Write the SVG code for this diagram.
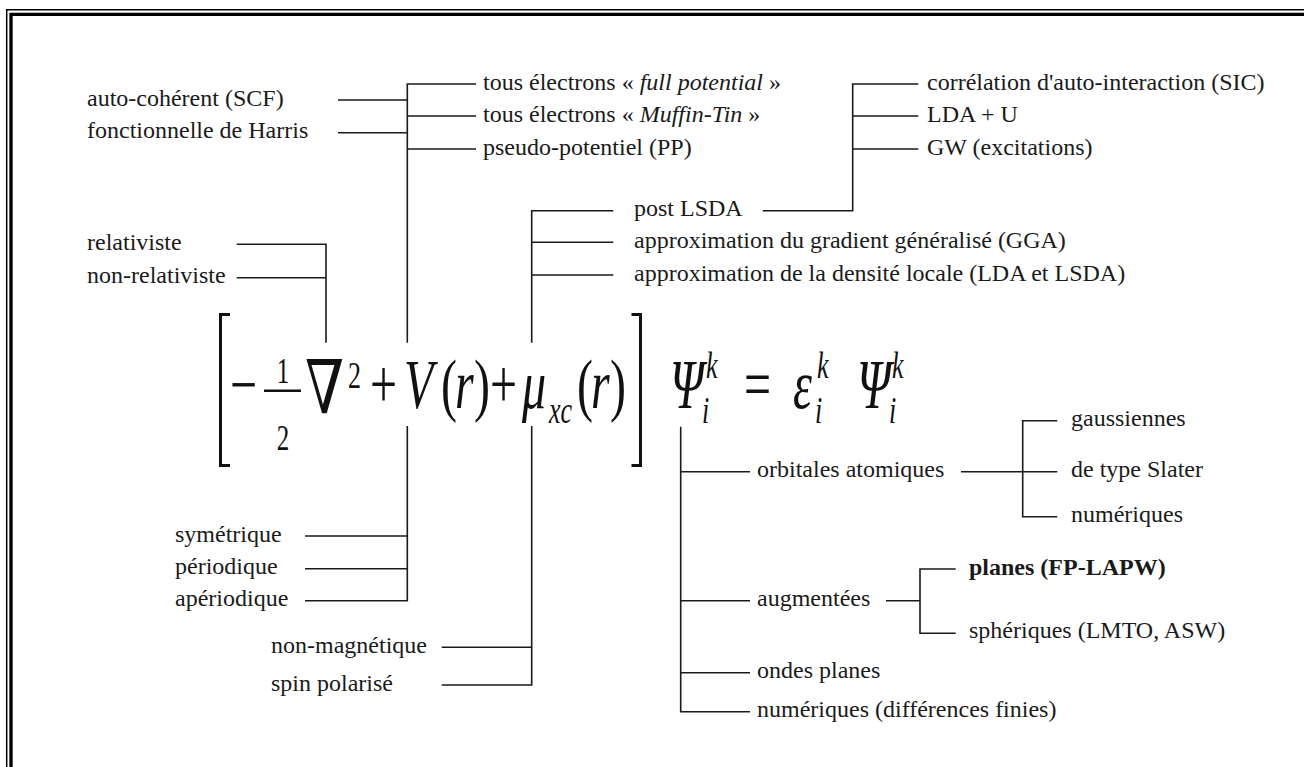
<svg xmlns="http://www.w3.org/2000/svg" width="1304" height="767" viewBox="0 0 1304 767">
<style>
.t{font-family:"Liberation Serif","Times New Roman",serif;font-size:24px;fill:#1a1a1a}
.b{font-weight:bold}
.i{font-style:italic}
.ln{stroke:#1a1a1a;stroke-width:1.6;fill:none}
.m{font-family:"Liberation Serif","Times New Roman",serif;font-size:48px;fill:#111}
.mi{font-family:"Liberation Serif","Times New Roman",serif;font-size:48px;font-style:italic;fill:#111}
.s{font-family:"Liberation Serif","Times New Roman",serif;font-size:26px;fill:#111}
.si{font-family:"Liberation Serif","Times New Roman",serif;font-size:26px;font-style:italic;fill:#111}
.f{font-family:"Liberation Serif","Times New Roman",serif;font-size:25px;fill:#111}
</style>
<rect x="0" y="0" width="1304" height="767" fill="#fff"/>
<g id="border">
<path d="M6.7,767 V9.8 H1304" fill="none" stroke="#000" stroke-width="1.5"/>
<path d="M11,767 V14.3 H1304" fill="none" stroke="#000" stroke-width="3.3"/>
</g>

<g id="equation">
<path d="M230,314.5 H220.5 V465.5 H230" fill="none" stroke="#111" stroke-width="3"/>
<path d="M631.5,314.5 H640.5 V465.5 H631.5" fill="none" stroke="#111" stroke-width="3"/>
<line x1="264" y1="390.7" x2="301" y2="390.7" stroke="#111" stroke-width="2.6"/>
<g transform="translate(0,413) scale(1,1.33)">
<text x="305" y="0" style="font-family:'DejaVu Serif',serif;font-size:56px;fill:#111">∇</text>
</g>
<g transform="translate(0,408) scale(1,1.45)">
<text class="m" x="230" y="0">−</text>
<text class="f" x="283" y="-17.2" text-anchor="middle">1</text>
<text class="f" x="283" y="29" text-anchor="middle">2</text>
<text class="s" x="348" y="-13.8">2</text>
<text class="m" x="370" y="0">+</text>
<text class="mi" x="404" y="0">V</text>
<text class="m" x="441" y="0">(</text>
<text class="mi" x="455" y="0">r</text>
<text class="m" x="474" y="0">)</text>
<text class="m" x="490" y="0">+</text>
<text class="mi" x="522" y="0">μ</text>
<text class="si" x="549" y="10.6">xc</text>
<text class="m" x="577" y="0">(</text>
<text class="mi" x="591" y="0">r</text>
<text class="m" x="610" y="0">)</text>
<text class="mi" x="670" y="0">Ψ</text>
<text class="si" x="706" y="-20.5">k</text>
<text class="si" x="702" y="10.1">i</text>
<text class="m" x="744" y="0">=</text>
<text class="mi" x="793" y="0">ε</text>
<text class="si" x="817" y="-20.5">k</text>
<text class="si" x="815" y="10.1">i</text>
<text class="mi" x="857" y="0">Ψ</text>
<text class="si" x="892" y="-20.5">k</text>
<text class="si" x="889" y="10.1">i</text>
</g>
</g>

<g id="connectors">
<path class="ln" d="M338,100 H407.3 M338,132.7 H407.3"/>
<path class="ln" d="M476,84 H407.3 V342.7 M407.3,116 H476 M407.3,149 H476"/>
<path class="ln" d="M918.3,84 H852.7 V210.7 H762.7 M852.7,116 H918.3 M852.7,149 H918.3"/>
<path class="ln" d="M613.3,210.7 H531.7 V342.7 M531.7,242.3 H613.3 M531.7,275 H613.3"/>
<path class="ln" d="M236.7,244.3 H326 V342.7 M236.7,277.7 H326"/>
<path class="ln" d="M407.3,426 V600.7 H305 M305,536 H407.3 M305,568.7 H407.3"/>
<path class="ln" d="M531.7,426 V685 H441.7 M441.7,647.3 H531.7"/>
<path class="ln" d="M680.7,426.7 V711.7 H750 M680.7,471.7 H750 M680.7,600.7 H750 M680.7,672.7 H750"/>
<path class="ln" d="M961,471.7 H1057.3 M1057.3,420.7 H1022.7 V516.7 H1057.3"/>
<path class="ln" d="M886,600.7 H920 M955.7,569 H920 V633.3 H955.7"/>
</g>

<g id="n-scf"><text class="t" x="87" y="106">auto-cohérent (SCF)</text></g>
<g id="n-harris"><text class="t" x="87" y="138">fonctionnelle de Harris</text></g>
<g id="n-fp"><text class="t" x="483" y="89.5">tous électrons « <tspan class="i">full potential</tspan> »</text></g>
<g id="n-mt"><text class="t" x="483" y="121.5">tous électrons « <tspan class="i">Muffin-Tin</tspan> »</text></g>
<g id="n-pp"><text class="t" x="483" y="154.5">pseudo-potentiel (PP)</text></g>
<g id="n-sic"><text class="t" x="927" y="89.5">corrélation d'auto-interaction (SIC)</text></g>
<g id="n-ldau"><text class="t" x="927" y="121.5">LDA + U</text></g>
<g id="n-gw"><text class="t" x="927" y="154.5">GW (excitations)</text></g>
<g id="n-post"><text class="t" x="634" y="216">post LSDA</text></g>
<g id="n-gga"><text class="t" x="634" y="248">approximation du gradient généralisé (GGA)</text></g>
<g id="n-lda"><text class="t" x="634" y="280.5">approximation de la densité locale (LDA et LSDA)</text></g>
<g id="n-rel"><text class="t" x="87" y="249.5">relativiste</text></g>
<g id="n-nonrel"><text class="t" x="87" y="283">non-relativiste</text></g>
<g id="n-sym"><text class="t" x="175" y="541.5">symétrique</text></g>
<g id="n-per"><text class="t" x="175" y="574">périodique</text></g>
<g id="n-aper"><text class="t" x="175" y="606">apériodique</text></g>
<g id="n-nonmag"><text class="t" x="271" y="652.5">non-magnétique</text></g>
<g id="n-spin"><text class="t" x="271" y="690.5">spin polarisé</text></g>
<g id="n-orb"><text class="t" x="757" y="477">orbitales atomiques</text></g>
<g id="n-aug"><text class="t" x="757" y="606">augmentées</text></g>
<g id="n-op"><text class="t" x="757" y="678">ondes planes</text></g>
<g id="n-num"><text class="t" x="757" y="717">numériques (différences finies)</text></g>
<g id="n-gauss"><text class="t" x="1071" y="426">gaussiennes</text></g>
<g id="n-slater"><text class="t" x="1071" y="477">de type Slater</text></g>
<g id="n-numer"><text class="t" x="1071" y="522">numériques</text></g>
<g id="n-planes"><text class="t b" x="969" y="575">planes (FP-LAPW)</text></g>
<g id="n-sph"><text class="t" x="969" y="638">sphériques (LMTO, ASW)</text></g>
</svg>
